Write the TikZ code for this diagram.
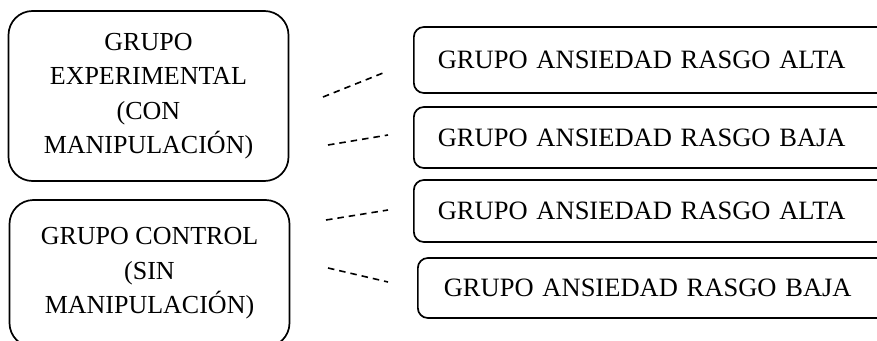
\documentclass[tikz,border=0pt]{standalone}
\usepackage{fontspec}
\setmainfont{Liberation Serif}
\begin{document}
\begin{tikzpicture}[x=1pt,y=-1pt,
    grupo/.style={draw, line width=1.7pt, rounded corners=24pt, align=center, minimum width=280pt, font=\fontsize{26}{34.5}\selectfont},
    rasgo/.style={draw, line width=1.7pt, rounded corners=10pt, anchor=west, text width=450pt, inner xsep=24pt, align=left, font=\fontsize{26.5}{30}\selectfont},
    enlace/.style={line width=1.6pt, dash pattern=on 6.5pt off 5pt}]
    \clip (0,0) rectangle (877,340);

    \node[grupo, minimum height=170pt] (experimental) at (148.5,96) {GRUPO\\EXPERIMENTAL\\(CON\\MANIPULACIÓN)};
    \node[grupo, minimum height=147pt] (control) at (149.5,273.5) {GRUPO CONTROL\\(SIN\\MANIPULACIÓN)};

    \node[rasgo, minimum height=66pt] (expalta) at (413,60) {GRUPO ANSIEDAD RASGO ALTA};
    \node[rasgo, minimum height=61pt] (expbaja) at (413,137.5) {GRUPO ANSIEDAD RASGO BAJA};
    \node[rasgo, minimum height=62pt] (conalta) at (413,211) {GRUPO ANSIEDAD RASGO ALTA};
    \node[rasgo, minimum height=60pt, inner xsep=26pt] (conbaja) at (417,288) {GRUPO ANSIEDAD RASGO BAJA};

    \coordinate (e1) at (323,97);  \coordinate (a1) at (383,73);
    \coordinate (e2) at (328,145); \coordinate (b1) at (388,135);
    \coordinate (c1) at (326,220); \coordinate (a2) at (388,210);
    \coordinate (c2) at (328,268); \coordinate (b2) at (388,282);

    \draw[enlace] (e1) -- (a1);
    \draw[enlace] (e2) -- (b1);
    \draw[enlace] (c1) -- (a2);
    \draw[enlace] (c2) -- (b2);
\end{tikzpicture}
\end{document}
